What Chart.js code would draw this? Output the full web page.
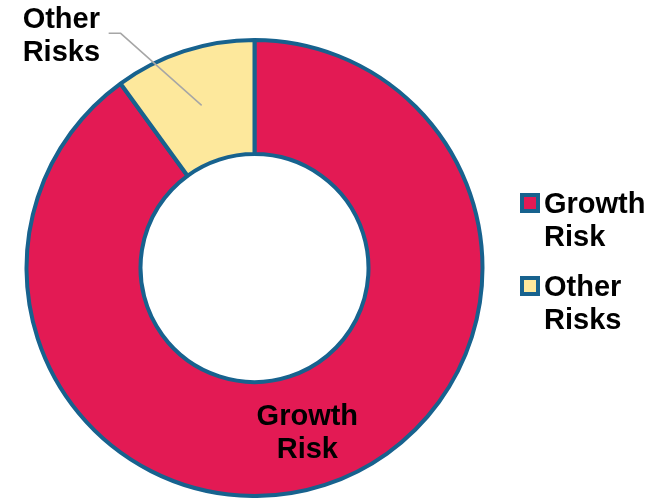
<!DOCTYPE html>
<html lang="en">
<head>
<meta charset="UTF-8">
<title>Risk split</title>
<script src="https://cdn.jsdelivr.net/npm/chart.js"></script>
<style>
  html, body { margin: 0; padding: 0; background: #fff; }
  #wrap { width: 659px; height: 498px; position: relative; }
</style>
</head>
<body>
<div id="wrap"><canvas id="riskChart"></canvas></div>
<script>
// data
const categories = ["Growth Risk", "Other Risks"];
const labelLines = [["Growth", "Risk"], ["Other", "Risks"]];
const shares = [90, 10];
const sliceColors = ["#E31A54", "#FDE89C"];
const edgeColor = "#17628E";

const FONT = "bold 29px 'Liberation Sans', Arial, sans-serif";

// slice labels: one inside, one outside with a leader line
const sliceLabels = {
  id: "sliceLabels",
  afterDatasetsDraw(chart) {
    const ctx = chart.ctx;
    const arcs = chart.getDatasetMeta(0).data;
    ctx.save();
    ctx.font = FONT;
    ctx.fillStyle = "#000";

    // Growth Risk inside the ring
    const g = arcs[0].tooltipPosition();
    ctx.textAlign = "center";
    ctx.textBaseline = "alphabetic";
    ctx.fillText(labelLines[0][0], g.x, g.y - 6);
    ctx.fillText(labelLines[0][1], g.x, g.y + 27);

    // Other Risks outside, top-left
    const o = arcs[1].tooltipPosition();
    ctx.strokeStyle = "#A6A6A6";
    ctx.lineWidth = 1.5;
    ctx.beginPath();
    ctx.moveTo(o.x, o.y);
    ctx.lineTo(o.x - 81, o.y - 72);
    ctx.lineTo(o.x - 93, o.y - 72);
    ctx.stroke();
    ctx.textAlign = "left";
    ctx.fillText(labelLines[1][0], o.x - 179, o.y - 77);
    ctx.fillText(labelLines[1][1], o.x - 179, o.y - 44);
    ctx.restore();
  }
};

// legend on the right with wrapped text
const sideLegend = {
  id: "sideLegend",
  afterDraw(chart) {
    const ctx = chart.ctx;
    ctx.save();
    ctx.font = FONT;
    ctx.textAlign = "left";
    ctx.textBaseline = "alphabetic";
    const x0 = 520, tops = [193, 276];
    categories.forEach((c, i) => {
      const y = tops[i];
      ctx.fillStyle = edgeColor;
      ctx.fillRect(x0, y, 20, 20);
      ctx.fillStyle = sliceColors[i];
      ctx.fillRect(x0 + 4, y + 4, 12, 12);
      ctx.fillStyle = "#000";
      ctx.fillText(labelLines[i][0], x0 + 24, y + 20);
      ctx.fillText(labelLines[i][1], x0 + 24, y + 53);
    });
    ctx.restore();
  }
};

new Chart(document.getElementById("riskChart"), {
  type: "doughnut",
  data: {
    labels: categories,
    datasets: [{
      data: shares,
      backgroundColor: sliceColors,
      borderColor: edgeColor,
      borderWidth: 4
    }]
  },
  options: {
    responsive: true,
    maintainAspectRatio: false,
    animation: false,
    cutout: "50%",
    layout: { padding: { left: 22, top: 38, right: 172, bottom: -5 } },
    plugins: {
      legend: { display: false },
      tooltip: { enabled: false }
    }
  },
  plugins: [sliceLabels, sideLegend]
});
</script>
</body>
</html>
